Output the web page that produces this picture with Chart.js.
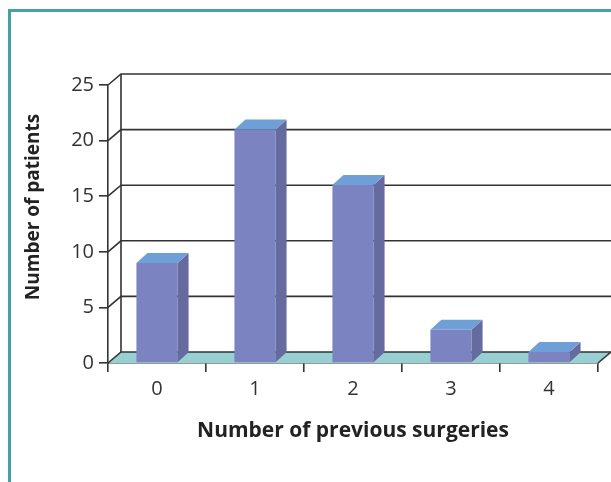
<!DOCTYPE html>
<html>
<head>
<meta charset="utf-8">
<script src="https://cdn.jsdelivr.net/npm/chart.js@4.4.1/dist/chart.umd.min.js"></script>
<style>
  html, body { margin: 0; padding: 0; background: #fff; }
  #wrap { width: 611px; height: 482px; position: relative; }
</style>
</head>
<body>
<div id="wrap"><canvas id="surgeryChart" width="611" height="482"></canvas></div>
<script>
// data
const surgeryCounts = ['0', '1', '2', '3', '4'];
const patientCounts = [9, 21, 16, 3, 1];
const yTicks = [0, 5, 10, 15, 20, 25];
const yTitle = 'Number of patients';
const xTitle = 'Number of previous surgeries';

const WALL_DX = 13, WALL_DY = -11;   // depth of the back wall
const BAR_DX = 11, BAR_DY = -10;     // depth of each bar
const LINE = '#333333';

// frame + back wall + floor, drawn before the bars
const box3d = {
    id: 'box3d',
    beforeDraw(chart) {
        const c = chart.ctx;
        c.save();
        c.strokeStyle = '#46a0a6';
        c.lineWidth = 3;
        c.beginPath();
        c.moveTo(9.5, 482);
        c.lineTo(9.5, 10.5);
        c.lineTo(611, 10.5);
        c.stroke();
        c.restore();
    },
    beforeDatasetsDraw(chart) {
        const c = chart.ctx;
        const x = chart.scales.x, y = chart.scales.y;
        const l = x.left, r = x.right, b = y.getPixelForValue(0), t = y.getPixelForValue(25);
        c.save();
        // floor
        c.fillStyle = '#98cfd2';
        c.beginPath();
        c.moveTo(l, b);
        c.lineTo(r, b);
        c.lineTo(r + WALL_DX, b + WALL_DY);
        c.lineTo(l + WALL_DX, b + WALL_DY);
        c.closePath();
        c.fill();

        c.strokeStyle = LINE;
        c.lineWidth = 1.6;
        // grid on back wall, plus the short diagonals on the left wall
        yTicks.forEach(v => {
            const py = y.getPixelForValue(v);
            c.beginPath();
            c.moveTo(l, py);
            c.lineTo(l + WALL_DX, py + WALL_DY);
            c.lineTo(r + WALL_DX + 20, py + WALL_DY);
            c.stroke();
        });
        // back corner of the left wall
        c.beginPath();
        c.moveTo(l + WALL_DX, t + WALL_DY);
        c.lineTo(l + WALL_DX, b + WALL_DY);
        c.stroke();
        // right end of the floor
        c.beginPath();
        c.moveTo(r, b);
        c.lineTo(r + WALL_DX, b + WALL_DY);
        c.stroke();
        c.restore();
    },
    afterDatasetsDraw(chart) {
        const c = chart.ctx;
        chart.getDatasetMeta(0).data.forEach(bar => {
            const x0 = bar.x - bar.width / 2, x1 = bar.x + bar.width / 2;
            const top = bar.y, base = bar.base;
            c.save();
            // side
            c.fillStyle = '#656b9e';
            c.beginPath();
            c.moveTo(x1, base);
            c.lineTo(x1, top);
            c.lineTo(x1 + BAR_DX, top + BAR_DY);
            c.lineTo(x1 + BAR_DX, base + BAR_DY);
            c.closePath();
            c.fill();
            // top
            c.fillStyle = '#6e9fd6';
            c.beginPath();
            c.moveTo(x0, top);
            c.lineTo(x1, top);
            c.lineTo(x1 + BAR_DX, top + BAR_DY);
            c.lineTo(x0 + BAR_DX, top + BAR_DY);
            c.closePath();
            c.fill();
            c.restore();
        });
    },
    afterDraw(chart) {
        // y title sits a bit above the middle of the axis in the original
        const c = chart.ctx;
        c.save();
        c.translate(34, 207);
        c.rotate(-Math.PI / 2);
        c.font = 'bold 19px "Open Sans"';
        c.fillStyle = '#222';
        c.textAlign = 'center';
        c.textBaseline = 'middle';
        c.fillText(yTitle, 0, 0);
        c.restore();
    }
};

new Chart(document.getElementById('surgeryChart'), {
    type: 'bar',
    data: {
        labels: surgeryCounts,
        datasets: [{
            data: patientCounts,
            backgroundColor: '#7b84c1',
            borderWidth: 0,
            barPercentage: 0.42,
            categoryPercentage: 1
        }]
    },
    plugins: [box3d],
    options: {
        responsive: false,
        animation: false,
        events: [],
        layout: { padding: { left: 10, right: 13, top: 85, bottom: 38 } },
        plugins: { legend: { display: false }, tooltip: { enabled: false } },
        scales: {
            x: {
                grid: { drawOnChartArea: false, drawTicks: true, tickLength: 9, color: LINE, lineWidth: 1.6 },
                border: { display: true, color: LINE, width: 1.6 },
                ticks: { color: '#333', padding: 5, font: { family: 'Open Sans', size: 20 } },
                title: {
                    display: true,
                    text: xTitle,
                    color: '#222',
                    font: { family: 'Open Sans', size: 21, weight: 'bold' },
                    padding: { top: 0, bottom: 0 }
                },
                afterFit(s) { s.height = 81; }
            },
            y: {
                min: 0,
                max: 25,
                grid: { drawOnChartArea: false, drawTicks: true, tickLength: 9, color: LINE, lineWidth: 1.6 },
                border: { display: true, color: LINE, width: 1.6 },
                ticks: { stepSize: 5, color: '#333', padding: 5, font: { family: 'Open Sans', size: 20 } },
                afterFit(s) { s.width = 98; }
            }
        }
    }
});
</script>
</body>
</html>
